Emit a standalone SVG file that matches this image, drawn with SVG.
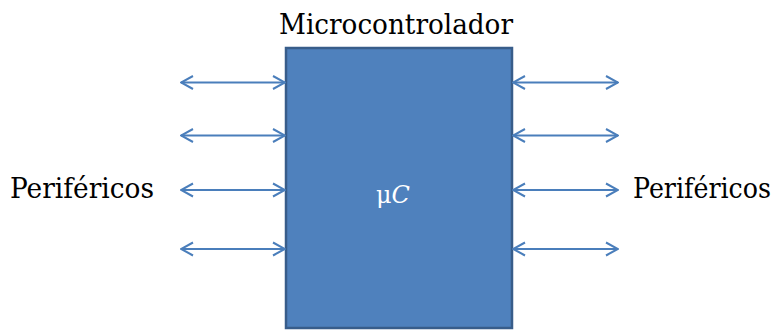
<svg xmlns="http://www.w3.org/2000/svg" width="780" height="330" viewBox="0 0 780 330">
<defs>
<marker id="ah" viewBox="0 0 14 16" refX="13" refY="8" markerWidth="14" markerHeight="16" markerUnits="userSpaceOnUse" orient="auto-start-reverse">
<path d="M1,1.5 L13,8 L1,14.5" fill="none" stroke="#4a7ebb" stroke-width="2"/>
</marker>
<style>
.lbl{font-family:"DejaVu Serif",serif;font-size:28px;fill:#000}
.arr{stroke:#4a7ebb;stroke-width:2;fill:none;marker-start:url(#ah);marker-end:url(#ah)}
</style>
</defs>
<rect width="780" height="330" fill="#fff"/>
<g id="mcu">
<rect x="286" y="48" width="226" height="280" fill="#4f81bd" stroke="#385d8a" stroke-width="2.5"/>
<text x="393" y="203" text-anchor="middle" font-family="DejaVu Serif, serif" font-size="24" fill="#fff">μ<tspan font-style="italic">C</tspan></text>
</g>
<g id="title"><text class="lbl" x="396" y="34" text-anchor="middle" textLength="234" lengthAdjust="spacingAndGlyphs">Microcontrolador</text></g>
<g id="perif-left"><text class="lbl" x="10" y="198" textLength="144" lengthAdjust="spacingAndGlyphs">Periféricos</text></g>
<g id="perif-right"><text class="lbl" x="633" y="198" textLength="138" lengthAdjust="spacingAndGlyphs">Periféricos</text></g>
<g id="connectors">
<line class="arr" x1="181" y1="82.5" x2="285" y2="82.5"/>
<line class="arr" x1="181" y1="135.5" x2="285" y2="135.5"/>
<line class="arr" x1="181" y1="190" x2="285" y2="190"/>
<line class="arr" x1="181" y1="249" x2="285" y2="249"/>
<line class="arr" x1="513" y1="82.5" x2="618" y2="82.5"/>
<line class="arr" x1="513" y1="135.5" x2="618" y2="135.5"/>
<line class="arr" x1="513" y1="190" x2="618" y2="190"/>
<line class="arr" x1="513" y1="249" x2="618" y2="249"/>
</g>
</svg>
